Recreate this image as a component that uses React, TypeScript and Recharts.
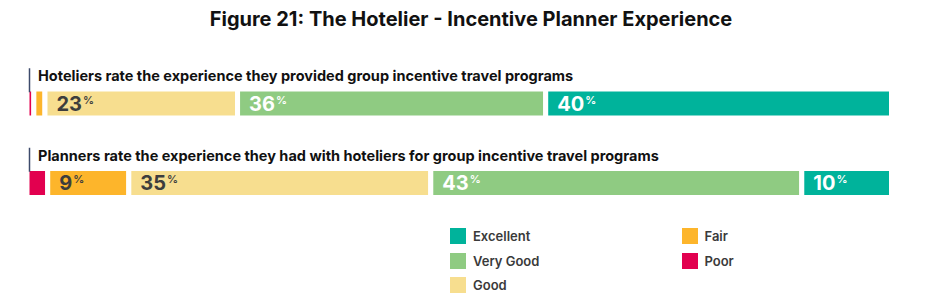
import React from 'react';
import { BarChart, Bar, XAxis, YAxis, LabelList } from 'recharts';

const title = 'Figure 21: The Hotelier - Incentive Planner Experience';
const categories = [
  'Hoteliers rate the experience they provided group incentive travel programs',
  'Planners rate the experience they had with hoteliers for group incentive travel programs',
];
const poor = [0.8, 2.4];
const fair = [1.3, 9.4];
const good = [22.5, 35];
const veryGood = [36, 43];
const excellent = [40.4, 10.4];

const seriesNames = ['Poor', 'Fair', 'Good', 'Very Good', 'Excellent'];
const seriesKeys = ['poor', 'fair', 'good', 'veryGood', 'excellent'];
const seriesValues = [poor, fair, good, veryGood, excellent];
const seriesColors = ['#E2004F', '#FDB52B', '#F7DE8F', '#8FCB82', '#00B39B'];
const labelColors = ['#3d3d3d', '#3d3d3d', '#3d3d3d', '#ffffff', '#ffffff'];
const minLabelPct = 5;

const data = categories.map((c, i) => {
  const row: any = { name: c };
  seriesKeys.forEach((k, s) => {
    row[k] = seriesValues[s][i];
  });
  return row;
});

const FONT = 'Inter, "Noto Sans", sans-serif';

const makeLabel = (s: number) => (props: any) => {
  const { x, y, height, index } = props;
  const v = seriesValues[s][index];
  if (v < minLabelPct) return null;
  const tx = Number(x) + 11.5;
  const ty = Number(y) + Number(height) / 2 + 7;
  const txt = String(Math.round(v));
  return (
    <text x={tx} y={ty} fill={labelColors[s]} fontFamily={FONT} fontWeight={700} fontSize={20}>
      {txt}
      <tspan fontSize={11} dx={1} dy={-7} fontWeight={600}>%</tspan>
    </text>
  );
};

const renderRowTick = (props: any) => {
  const { y, payload, index } = props;
  const cy = Number(y);
  return (
    <g key={`rt-${index}`}>
      <line x1={29.5} x2={29.5} y1={cy - 35.5} y2={cy - 11.5} stroke="#3d4a6b" strokeWidth={1.5} />
      <text x={38} y={cy - 22.5} fill="#111" fontFamily={FONT} fontWeight={700} fontSize={14.5}>
        {payload.value}
      </text>
    </g>
  );
};

const legendOrder = [
  { s: 4, col: 0, row: 0 },
  { s: 3, col: 0, row: 1 },
  { s: 2, col: 0, row: 2 },
  { s: 1, col: 1, row: 0 },
  { s: 0, col: 1, row: 1 },
];

export default function App() {
  return (
    <div style={{ position: 'absolute', left: 0, top: 0, width: 936, height: 300, background: '#fff' }}>
      <div
        style={{
          position: 'absolute',
          left: 0,
          top: 5,
          width: 942,
          textAlign: 'center',
          fontFamily: FONT,
          fontWeight: 700,
          fontSize: 20,
          color: '#111',
          lineHeight: '28px',
        }}
      >
        {title}
      </div>
      <BarChart
        width={936}
        height={300}
        data={data}
        layout="vertical"
        stackOffset="expand"
        margin={{ top: 64, right: 44.5, bottom: 77, left: 26 }}
        barSize={29}
      >
        <XAxis type="number" hide domain={[0, 1]} />
        <YAxis
          type="category"
          dataKey="name"
          width={1}
          axisLine={false}
          tickLine={false}
          tick={renderRowTick}
          interval={0}
        />
        {seriesKeys.map((k, s) => (
          <Bar
            key={k}
            dataKey={k}
            stackId="a"
            fill={seriesColors[s]}
            stroke="#ffffff"
            strokeWidth={5}
            isAnimationActive={false}
          >
            <LabelList dataKey={k} content={makeLabel(s)} />
          </Bar>
        ))}
      </BarChart>
      {legendOrder.map(({ s, col, row }) => (
        <div
          key={s}
          style={{
            position: 'absolute',
            left: col === 0 ? 450 : 681.5,
            top: 228 + row * 24.5,
            display: 'flex',
            alignItems: 'center',
            fontFamily: FONT,
            fontWeight: 600,
            fontSize: 13,
            color: '#3a3a3a',
            height: 16,
          }}
        >
          <span style={{ width: 16, height: 16, background: seriesColors[s], display: 'inline-block' }} />
          <span style={{ marginLeft: 7 }}>{seriesNames[s]}</span>
        </div>
      ))}
    </div>
  );
}
